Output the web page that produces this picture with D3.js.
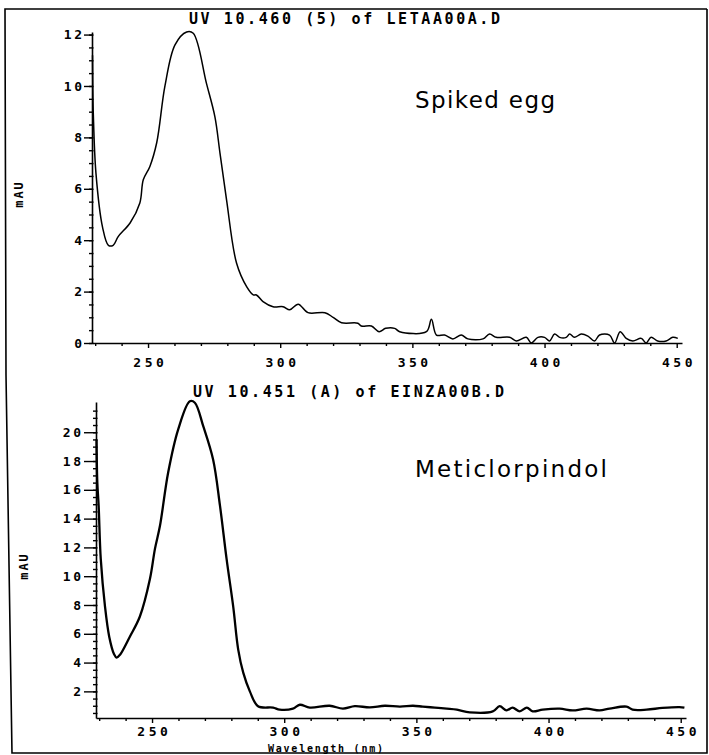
<!DOCTYPE html>
<html><head><meta charset="utf-8">
<script src="https://cdn.jsdelivr.net/npm/d3@7"></script>
<style>body{margin:0;background:#fff}svg{display:block}</style>
</head><body>
<svg id="c" width="709" height="755"></svg>
<script>
// ---------- data ----------
const topTitle = "UV 10.460 (5) of LETAA00A.D";
const bottomTitle = "UV 10.451 (A) of EINZA00B.D";
const topLabel = "Spiked egg";
const bottomLabel = "Meticlorpindol";
const xAxisTitle = "Wavelength (nm)";
const yAxisTitle = "mAU";
const xTicks = [250, 300, 350, 400, 450];
const topYTicks = [0, 2, 4, 6, 8, 10, 12];
const bottomYTicks = [2, 4, 6, 8, 10, 12, 14, 16, 18, 20];

const topWavelength = [
  229, 229.1, 229.3, 230.3, 232.8, 235, 236.8, 238.7, 243.2, 246.9,
  248.2, 250.7, 253.3, 256.4, 260.2, 264.6, 267.1, 272.1, 275.3, 277.2,
  279.7, 283.5, 287.3, 289.8, 291, 293.5, 297.3, 301.1, 303.6, 306.8,
  310.5, 316.9, 320, 323.2, 329.4, 330.7, 334.5, 337.4, 339.9, 343.3,
  345.2, 355.3, 357.2, 359.1, 362.2, 365.3, 368.5, 371, 376.7, 379.2,
  381.7, 386.8, 389.3, 393.1, 395, 397.5, 400, 401.9, 403.8, 405.7,
  408.2, 409.5, 411.3, 413.9, 416.4, 418.9, 420.8, 424.6, 426.5, 428.6,
  430.9, 433.4, 436.6, 438.4, 440.3, 442.8, 446, 448.5, 450.4];
const topAbsorbance = [
  11.2, 10.0, 8.9, 6.6, 4.5, 3.8, 3.8, 4.14, 4.67, 5.45,
  6.35, 6.87, 7.8, 10.0, 11.6, 12.1, 12.05, 10.1, 8.8, 7.4,
  5.57, 3.1, 2.19, 1.87, 1.87, 1.61, 1.41, 1.41, 1.29, 1.51,
  1.18, 1.18, 1.0, 0.79, 0.77, 0.66, 0.66, 0.44, 0.57, 0.57,
  0.44, 0.44, 0.92, 0.31, 0.31, 0.16, 0.31, 0.16, 0.16, 0.35,
  0.22, 0.22, 0.08, 0.22, 0, 0.22, 0.22, 0.08, 0.35, 0.22,
  0.22, 0.35, 0.22, 0.35, 0.27, 0.08, 0.31, 0.31, 0, 0.44,
  0.18, 0.08, 0.18, 0, 0.22, 0.08, 0.08, 0.22, 0.18];

const bottomWavelength = [
  229, 229.3, 229.8, 230.6, 232.2, 233.8, 235.6, 236.6, 237.9, 241.6,
  245.4, 249.2, 251.1, 253, 256.1, 259.9, 264.3, 266.2, 269.4, 273.1,
  275.7, 278.2, 280.7, 282.6, 284.5, 287, 290.1, 295.8, 298.3, 303.3,
  305.9, 309.7, 317.2, 322.2, 326.7, 332.4, 338.1, 343.8, 348.7, 352.4,
  357, 361.5, 365.3, 370.2, 378.9, 381.5, 384.1, 386.4, 389.1, 391.8,
  394, 397.8, 404.2, 409.1, 414.4, 419.3, 423.1, 429.5, 431.8, 437.1, 443.1, 449.5, 451.4];
const bottomAbsorbance = [
  19.5, 16.5, 14.9, 11.2, 7.9, 5.8, 4.6, 4.35, 4.55, 5.8,
  7.2, 9.8, 11.9, 13.5, 17.2, 20.2, 22.15, 22.05, 20.4, 18.1,
  14.9, 11.2, 7.9, 4.9, 3.3, 2.0, 0.97, 0.87, 0.73, 0.8,
  1.07, 0.87, 1.0, 0.8, 0.97, 0.89, 1.0, 0.94, 1.0, 0.94,
  0.87, 0.8, 0.73, 0.54, 0.61, 0.97, 0.68, 0.87, 0.61, 0.87,
  0.61, 0.73, 0.8, 0.68, 0.8, 0.68, 0.8, 0.94, 0.73, 0.73, 0.85, 0.91, 0.87];

// ---------- drawing ----------
const svg = d3.select("#c");
svg.append("rect").attr("width", 709).attr("height", 755).attr("fill", "#fff");
const MONO = "'DejaVu Sans Mono', monospace";
const SANS = "'DejaVu Sans', sans-serif";

// outer frame
svg.append("path")
  .attr("d", d3.line()([[707, 9], [5, 9], [6, 375], [12, 753], [707, 753], [707, 9]]))
  .attr("fill", "none").attr("stroke", "#000").attr("stroke-width", 1.6);

function panel(cfg) {
  const x = d3.scaleLinear().domain([228.8, 452]).range(cfg.xRange);
  const y = d3.scaleLinear().domain(cfg.yDomain).range(cfg.yRange);
  const g = svg.append("g");

  // minor x ticks
  const xMinor = d3.range(230, 451, 10).filter(v => v % 50 !== 0);
  g.append("g").attr("transform", `translate(0,${cfg.yRange[0]})`)
    .call(d3.axisBottom(x).tickValues(xMinor).tickSize(3).tickFormat(""))
    .call(a => a.select(".domain").remove());
  // major x axis
  const xa = g.append("g").attr("transform", `translate(0,${cfg.yRange[0]})`)
    .call(d3.axisBottom(x).tickValues(xTicks).tickSize(5).tickPadding(cfg.xPad).tickSizeOuter(0));
  xa.selectAll("text").attr("font-family", MONO).attr("font-weight", "bold")
    .attr("font-size", 13).attr("letter-spacing", "3.5px").attr("dx", 1.75).attr("fill", "#000");

  // minor y ticks
  const yMinor = d3.range(cfg.minorStart, cfg.minorEnd + 0.01, 0.5);
  g.append("g").attr("transform", `translate(${cfg.xRange[0]},0)`)
    .call(d3.axisLeft(y).tickValues(yMinor).tickSize(3).tickFormat(""))
    .call(a => a.select(".domain").remove())
    .call(a => a.selectAll("line").attr("x2", -3).attr("x1", 1.5));
  // major y axis
  const ya = g.append("g").attr("transform", `translate(${cfg.xRange[0]},0)`)
    .call(d3.axisLeft(y).tickValues(cfg.yTicks).tickSize(cfg.yTickSize).tickPadding(cfg.yPad).tickSizeOuter(0));
  ya.selectAll("text").attr("font-family", MONO).attr("font-weight", "bold")
    .attr("font-size", 13).attr("letter-spacing", "2.5px").attr("dx", 2.5).attr("fill", "#000");

  g.selectAll(".domain").attr("stroke-width", 1.6);
  g.selectAll(".tick line").attr("stroke-width", 1.4);

  // curve
  const pts = cfg.wl.map((w, i) => [w, cfg.ab[i]]);
  g.append("path").datum(pts)
    .attr("d", d3.line().curve(d3.curveCatmullRom.alpha(0.5)).x(d => x(d[0])).y(d => y(d[1])))
    .attr("fill", "none").attr("stroke", "#000").attr("stroke-width", cfg.lw)
    .attr("stroke-linejoin", "round");

  // title
  g.append("text").attr("x", cfg.titleX).attr("y", cfg.titleY)
    .attr("textLength", 311).attr("lengthAdjust", "spacing")
    .attr("font-family", MONO).attr("font-weight", "bold").attr("font-size", 15)
    .text(cfg.title);
  // annotation
  g.append("text").attr("x", 415).attr("y", cfg.annY)
    .attr("textLength", cfg.annLen).attr("lengthAdjust", "spacing")
    .attr("font-family", SANS).attr("font-size", 23)
    .text(cfg.ann);
  // y title
  g.append("text").attr("transform", `translate(${cfg.mauX},${cfg.mauY}) rotate(-90)`)
    .attr("text-anchor", "middle").attr("font-family", MONO).attr("font-weight", "bold")
    .attr("font-size", 12).attr("letter-spacing", "2px")
    .text(yAxisTitle);
  return { x, y };
}

panel({
  xRange: [92, 682], yDomain: [0, 12.1], yRange: [343, 32], xPad: 10,
  yTicks: topYTicks, minorStart: 0, minorEnd: 12, yTickSize: 8, yPad: 2,
  wl: topWavelength, ab: topAbsorbance, lw: 1.5,
  title: topTitle, titleX: 189, titleY: 24,
  ann: topLabel, annY: 108, annLen: 140,
  mauX: 23, mauY: 194
});
panel({
  xRange: [96, 686], yDomain: [0.15, 22.1], yRange: [718, 402], xPad: 4,
  yTicks: bottomYTicks, minorStart: 0.5, minorEnd: 21.5, yTickSize: 12, yPad: 3,
  wl: bottomWavelength, ab: bottomAbsorbance, lw: 2.3,
  title: bottomTitle, titleX: 193, titleY: 397,
  ann: bottomLabel, annY: 477, annLen: 192,
  mauX: 28, mauY: 566
});

// x axis title
svg.append("text").attr("x", 268).attr("y", 751.5)
  .attr("textLength", 115).attr("lengthAdjust", "spacing")
  .attr("font-family", MONO).attr("font-weight", "bold").attr("font-size", 10)
  .text(xAxisTitle);
</script>
</body></html>
